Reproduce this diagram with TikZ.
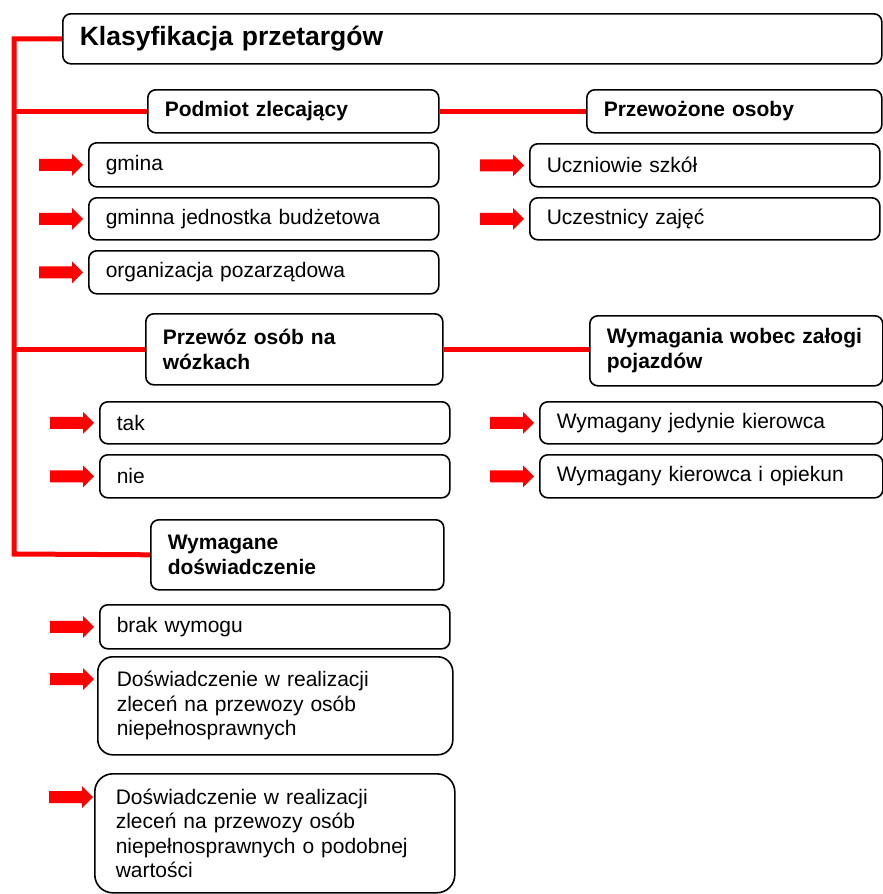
\documentclass[tikz,border=0pt]{standalone}
\usepackage{fontspec}
\setmainfont{Liberation Sans}
\usetikzlibrary{calc}
\tikzset{
  box/.style={draw=black, line width=1.6pt, rounded corners=8pt, anchor=north west,
    inner xsep=17pt, inner ysep=2pt, align=left, fill=white,
    font=\fontsize{21}{24.5}\selectfont},
  head/.style={box, font=\fontsize{21}{25}\selectfont\bfseries},
  redline/.style={draw=red, line width=5pt},
}
\newcommand\redarrow[1]{%
  \fill[red] ($(#1)+(-44,-6)$) -- ($(#1)+(-11,-6)$) -- ($(#1)+(-11,-11)$) -- (#1)
    -- ($(#1)+(-11,11)$) -- ($(#1)+(-11,6)$) -- ($(#1)+(-44,6)$) -- cycle;}
\begin{document}
\begin{tikzpicture}[x=1pt,y=-1pt]
\useasboundingbox (0,0) rectangle (883,894);
% title
\node[box, font=\fontsize{26.5}{30}\selectfont\bfseries, text width=785pt, minimum height=50pt] (title) at (62,13) {Klasyfikacja przetargów};
% headings
\node[head, text width=257pt, minimum height=43pt] (podmiot) at (147,89) {Podmiot zlecający};
\node[head, text width=261pt, minimum height=43pt] (przewozone) at (586,89) {Przewożone osoby};
\node[head, text width=263pt, minimum height=71pt] (przewoz) at (145,313) {Przewóz osób na\\wózkach};
\node[head, text width=259pt, minimum height=70pt] (wymag) at (589,315) {Wymagania wobec załogi\\pojazdów};
\node[head, text width=259pt, minimum height=70pt] (wd) at (150,519) {Wymagane\\doświadczenie};
% items
\node[box, text width=316pt, minimum height=44pt] (gmina) at (88,142) {gmina};
\node[box, text width=316pt, minimum height=42pt] (gjb) at (88,197) {gminna jednostka budżetowa};
\node[box, text width=316pt, minimum height=43pt] (org) at (88,250) {organizacja pozarządowa};
\node[box, text width=316pt, minimum height=43pt] (ucz) at (529,143) {Uczniowie szkół};
\node[box, text width=316pt, minimum height=42pt] (uczest) at (529,197) {Uczestnicy zajęć};
\node[box, text width=316pt, minimum height=42pt] (tak) at (99,401) {tak};
\node[box, text width=316pt, minimum height=43pt] (nie) at (99,454) {nie};
\node[box, text width=309pt, minimum height=42pt] (wjk) at (539,401) {Wymagany jedynie kierowca};
\node[box, text width=309pt, minimum height=43pt] (wko) at (539,454) {Wymagany kierowca i opiekun};
\node[box, text width=316pt, minimum height=44pt] (brak) at (99,604) {brak wymogu};
\node[box, rounded corners=15pt, inner xsep=19pt, text width=317pt, minimum height=98pt] (dos1) at (97,656) {Doświadczenie w realizacji\\zleceń na przewozy osób\\niepełnosprawnych};
\node[box, rounded corners=18pt, inner xsep=21pt, text width=318pt, minimum height=119pt] (dos2) at (94,773) {Doświadczenie w realizacji\\zleceń na przewozy osób\\niepełnosprawnych o podobnej\\wartości};
% connectors
\coordinate (sb) at (14,554);
\draw[redline] (title.west) -| (sb) -- (wd.west);
\draw[redline] (podmiot.west) -- (podmiot.west -| sb);
\draw[redline] (przewoz.west) -- (przewoz.west -| sb);
\draw[redline] (podmiot.east) -- (przewozone.west);
\draw[redline] (przewoz.east) -- (przewoz.east -| wymag.west);
% arrows
\foreach \b in {gmina,gjb,org,ucz,uczest,tak,nie,wjk,wko,brak}{
  \coordinate (t) at ($(\b.west)+(-5,0)$);
  \redarrow{t}
}
\coordinate (t1) at ($(dos1.north west)+(-3,23)$);
\redarrow{t1}
\coordinate (t2) at ($(dos2.north west)+(-1,24)$);
\redarrow{t2}
\end{tikzpicture}
\end{document}
